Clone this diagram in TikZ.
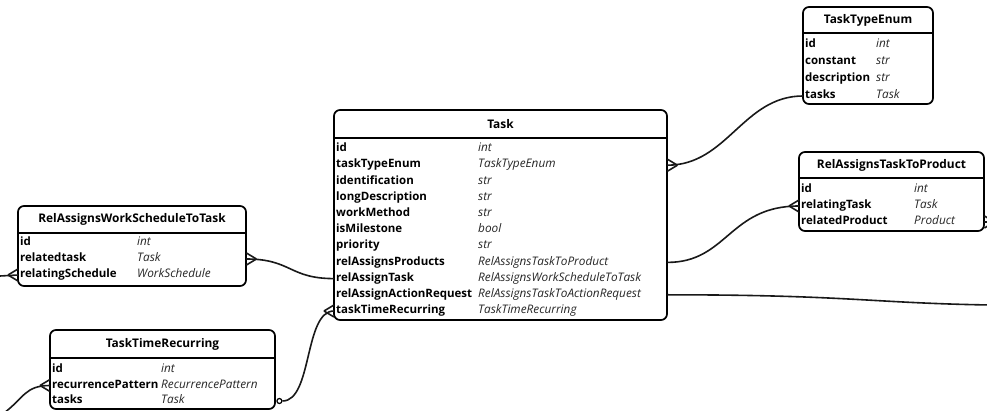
\documentclass[tikz,border=0pt]{standalone}
\usepackage{fontspec}
\setmainfont{Open Sans}
\usetikzlibrary{calc}

\tikzset{
  erframe/.style={draw=black, line width=1.7pt, rounded corners=6pt, fill=white, inner sep=0pt},
  sepline/.style={line width=1.7pt},
  ertitle/.style={font=\fontsize{11.9}{13}\selectfont\bfseries, inner sep=0pt},
  attrname/.style={anchor=west, align=left, inner xsep=2pt, inner ysep=0pt,
    text height=8.5pt, text depth=3pt, font=\fontsize{11.5}{13}\selectfont\bfseries},
  attrtype/.style={anchor=west, inner sep=0pt, text height=8.5pt, text depth=3pt,
    font=\fontsize{11.8}{13}\selectfont\itshape, text=black!85},
  link/.style={line width=1.6pt, black!90},
  crowsfoot/.pic={\draw[link] (10,0) -- (0,-6) (10,0) -- (0,6);},
}

% entity frame: name, left, top, right, bottom, header line y, title
\newcommand{\erbox}[7]{%
  \node[erframe, minimum width={#4-#2}, minimum height={#5-#3}] (#1) at ({(#2+#4)/2},{(#3+#5)/2}) {};
  \draw[sepline] (#2,#6) -- (#4,#6);
  \node[ertitle] (#1-title) at ({(#2+#4)/2},{(#3+#6)/2}) {#7};
}

\begin{document}
\begin{tikzpicture}[x=1pt,y=-1pt]
\useasboundingbox[fill=white] (0,0) rectangle (987,411);

% ---------- Task ----------
\erbox{task}{334}{110}{667}{320}{138}{Task}
\foreach \nm/\ty [count=\i] in {id/int, taskTypeEnum/TaskTypeEnum, identification/str,
  longDescription/str, workMethod/str, isMilestone/bool, priority/str,
  relAssignsProducts/RelAssignsTaskToProduct, relAssignTask/RelAssignsWorkScheduleToTask,
  relAssignActionRequest/RelAssignsTaskToActionRequest, taskTimeRecurring/TaskTimeRecurring}{
  \node[attrname, text width=329pt] (task-\i) at (334,{149+(\i-1)*16.2}) {\nm};
  \node[attrtype] (task-\i-t) at (478,{149+(\i-1)*16.2}) {\ty};
}

% ---------- TaskTypeEnum ----------
\erbox{tte}{803}{7}{933}{104}{33}{TaskTypeEnum}
\foreach \nm/\ty [count=\i] in {id/int, constant/str, description/str, tasks/Task}{
  \node[attrname, text width=126pt] (tte-\i) at (803,{45+(\i-1)*17}) {\nm};
  \node[attrtype] (tte-\i-t) at (876,{45+(\i-1)*17}) {\ty};
}

% ---------- RelAssignsTaskToProduct ----------
\erbox{rtp}{799}{152}{984}{231}{178}{RelAssignsTaskToProduct}
\foreach \nm/\ty [count=\i] in {id/int, relatingTask/Task, relatedProduct/Product}{
  \node[attrname, text width=181pt] (rtp-\i) at (799,{190+(\i-1)*16}) {\nm};
  \node[attrtype] (rtp-\i-t) at (914,{190+(\i-1)*16}) {\ty};
}

% ---------- RelAssignsWorkScheduleToTask ----------
\erbox{rws}{18}{206}{246}{286}{233}{RelAssignsWorkScheduleToTask}
\foreach \nm/\ty [count=\i] in {id/int, relatedtask/Task, relatingSchedule/WorkSchedule}{
  \node[attrname, text width=224pt] (rws-\i) at (18,{243+(\i-1)*16}) {\nm};
  \node[attrtype] (rws-\i-t) at (137,{243+(\i-1)*16}) {\ty};
}

% ---------- TaskTimeRecurring ----------
\erbox{ttr}{50}{330}{275}{409}{358}{TaskTimeRecurring}
\foreach \nm/\ty [count=\i] in {id/int, recurrencePattern/RecurrencePattern, tasks/Task}{
  \node[attrname, text width=221pt] (ttr-\i) at (50,{370+(\i-1)*15.5}) {\nm};
  \node[attrtype] (ttr-\i-t) at (161,{370+(\i-1)*15.5}) {\ty};
}

% ---------- relationships ----------
\coordinate (actionreq-end) at (990,305);
\coordinate (sched-end) at (0,276);
\coordinate (pattern-end) at (4,413);
\coordinate (product-end) at (992,222);

% TaskTypeEnum.tasks -> Task.taskTypeEnum
\draw[link] (tte-4.west) .. controls +(-60,0) and +(60,0) .. (task-2.east);
\pic[rotate=0] at (task-2.east) {crowsfoot};

% RelAssignsTaskToProduct.relatingTask -> Task.relAssignsProducts
\draw[link] (rtp-2.west) .. controls +(-70,0) and +(60,0) .. (task-8.east);
\pic[rotate=180] at (rtp-2.west) {crowsfoot};

% Task.relAssignActionRequest -> off to the right
\draw[link] (task-10.east) .. controls +(180,0) and +(-120,-2) .. (actionreq-end);

% RelAssignsWorkScheduleToTask.relatedtask -> Task.relAssignTask
\draw[link] (rws-2.east) .. controls +(45,0) and +(-45,0) .. (task-9.west);
\pic[rotate=0] at (rws-2.east) {crowsfoot};

% RelAssignsWorkScheduleToTask.relatingSchedule -> off to the left
\draw[link] (rws-3.west) -- (sched-end);
\pic[rotate=180] at (rws-3.west) {crowsfoot};

% Task.taskTimeRecurring -> TaskTimeRecurring.tasks
\node[draw, circle, line width=1.2pt, inner sep=0pt, minimum size=5pt] (ttr-opt) at ($(ttr-3.east)+(4,0)$) {};
\draw[link] (task-11.west) .. controls +(-30,0) and +(30,0) .. (ttr-opt.east);
\pic[rotate=180] at (task-11.west) {crowsfoot};

% TaskTimeRecurring.recurrencePattern -> off to the lower left
\draw[link] (ttr-2.west) .. controls +(-25,0) and +(20,-15) .. (pattern-end);
\pic[rotate=180] at (ttr-2.west) {crowsfoot};

% RelAssignsTaskToProduct.relatedProduct -> off to the right
\draw[link] (rtp-3.east) -- (product-end);
\pic[rotate=0] at (rtp-3.east) {crowsfoot};
\end{tikzpicture}
\end{document}
